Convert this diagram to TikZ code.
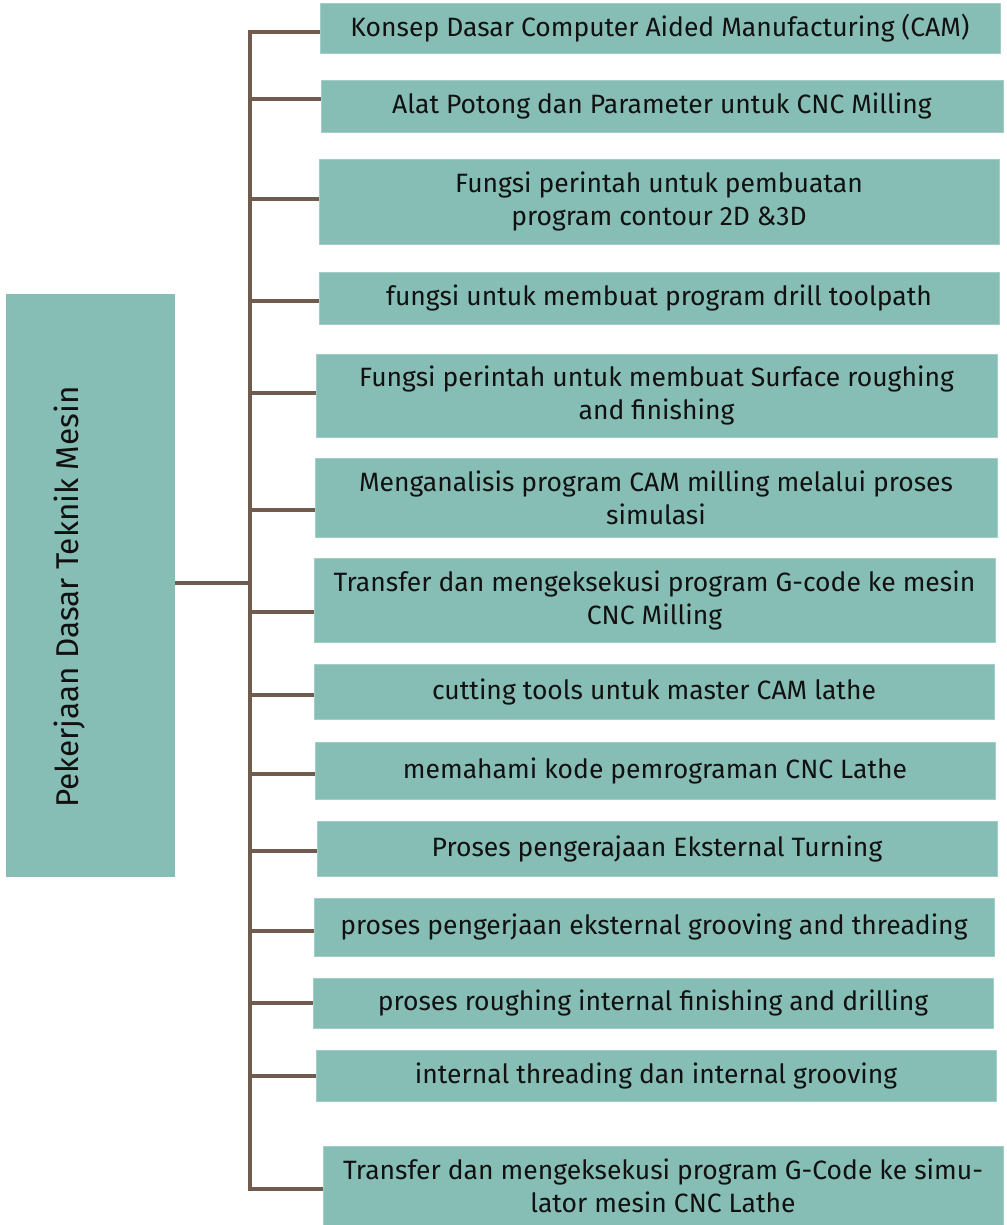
\documentclass[tikz,border=0pt]{standalone}
\usepackage{fontspec}
\setmainfont{Fira Sans}
\usetikzlibrary{fit}
\definecolor{boxfill}{HTML}{86BEB6}
\definecolor{boxedge}{HTML}{A2CEC8}
\definecolor{linebrown}{HTML}{705C4F}
\definecolor{txt}{HTML}{111111}
\tikzset{
  box/.style={fill=boxfill, draw=boxedge, line width=0.8pt, inner sep=0pt},
  lbl/.style={align=center, inner sep=0pt, text=txt, font=\fontsize{26.5}{33}\selectfont},
  rootbox/.style={fill=boxfill, inner sep=0pt},
  conn/.style={draw=linebrown, line width=4.5pt}
}
\begin{document}
\begin{tikzpicture}[x=1pt,y=-1pt]
\useasboundingbox (0,0) rectangle (1006,1225);
\node[rootbox, fit={(6,294) (175,877)}] (root) {};
\node[rotate=90, inner sep=0pt, text=txt, font=\fontsize{31.5}{33}\selectfont] (roottext) at (70,597) {Pekerjaan Dasar Teknik Mesin};
\node[box, fit={(320,3) (1000,53)}] (b1) {};
\node[box, fit={(321,80) (1003,132)}] (b2) {};
\node[box, fit={(319,159) (999,244)}] (b3) {};
\node[box, fit={(319,272) (999,324)}] (b4) {};
\node[box, fit={(316,354) (997,437)}] (b5) {};
\node[box, fit={(315,458) (997,537)}] (b6) {};
\node[box, fit={(314,558) (995,642)}] (b7) {};
\node[box, fit={(314,664) (994,719)}] (b8) {};
\node[box, fit={(315,742) (995,799)}] (b9) {};
\node[box, fit={(317,821) (997,876)}] (b10) {};
\node[box, fit={(314,898) (994,956)}] (b11) {};
\node[box, fit={(313,978) (993,1028)}] (b12) {};
\node[box, fit={(316,1050) (996,1101)}] (b13) {};
\node[box, fit={(323,1146) (1003,1225)}] (b14) {};
\node[lbl] (l1) at (b1.center) {Konsep Dasar Computer Aided Manufacturing (CAM)};
\node[lbl] (l2) at (b2.center) {Alat Potong dan Parameter untuk CNC Milling};
\node[lbl] (l3) at (b3.center) {Fungsi perintah untuk pembuatan\\program contour 2D \&3D};
\node[lbl] (l4) at (b4.center) {fungsi untuk membuat program drill toolpath};
\node[lbl] (l5) at (b5.center) {Fungsi perintah untuk membuat Surface roughing\\and finishing};
\node[lbl] (l6) at (b6.center) {Menganalisis program CAM milling melalui proses\\simulasi};
\node[lbl] (l7) at (b7.center) {Transfer dan mengeksekusi program G-code ke mesin\\CNC Milling};
\node[lbl] (l8) at (b8.center) {cutting tools untuk master CAM lathe};
\node[lbl] (l9) at (b9.center) {memahami kode pemrograman CNC Lathe};
\node[lbl] (l10) at (b10.center) {Proses pengerajaan Eksternal Turning};
\node[lbl] (l11) at (b11.center) {proses pengerjaan eksternal grooving and threading};
\node[lbl] (l12) at (b12.center) {proses roughing internal finishing and drilling};
\node[lbl] (l13) at (b13.center) {internal threading dan internal grooving};
\node[lbl] (l14) at (b14.center) {Transfer dan mengeksekusi program G-Code ke simu-\\lator mesin CNC Lathe};
% trunk coordinates
\coordinate (t1) at (250,32);
\coordinate (t2) at (250,99);
\coordinate (t3) at (250,199);
\coordinate (t4) at (250,301);
\coordinate (t5) at (250,393);
\coordinate (t6) at (250,510);
\coordinate (t7) at (250,612);
\coordinate (t8) at (250,695);
\coordinate (t9) at (250,774);
\coordinate (t10) at (250,851);
\coordinate (t11) at (250,931);
\coordinate (t12) at (250,1003);
\coordinate (t13) at (250,1076);
\coordinate (t14) at (250,1189);
\coordinate (tr) at (250,583);
\draw[conn] (t1 -| b1.west) -- (t1) -- (t14) -- (t14 -| b14.west);
\draw[conn] (root.east |- tr) -- (tr);
\foreach \i in {2,...,13} {
  \draw[conn] (t\i) -- (t\i -| b\i.west);
}
\end{tikzpicture}
\end{document}
